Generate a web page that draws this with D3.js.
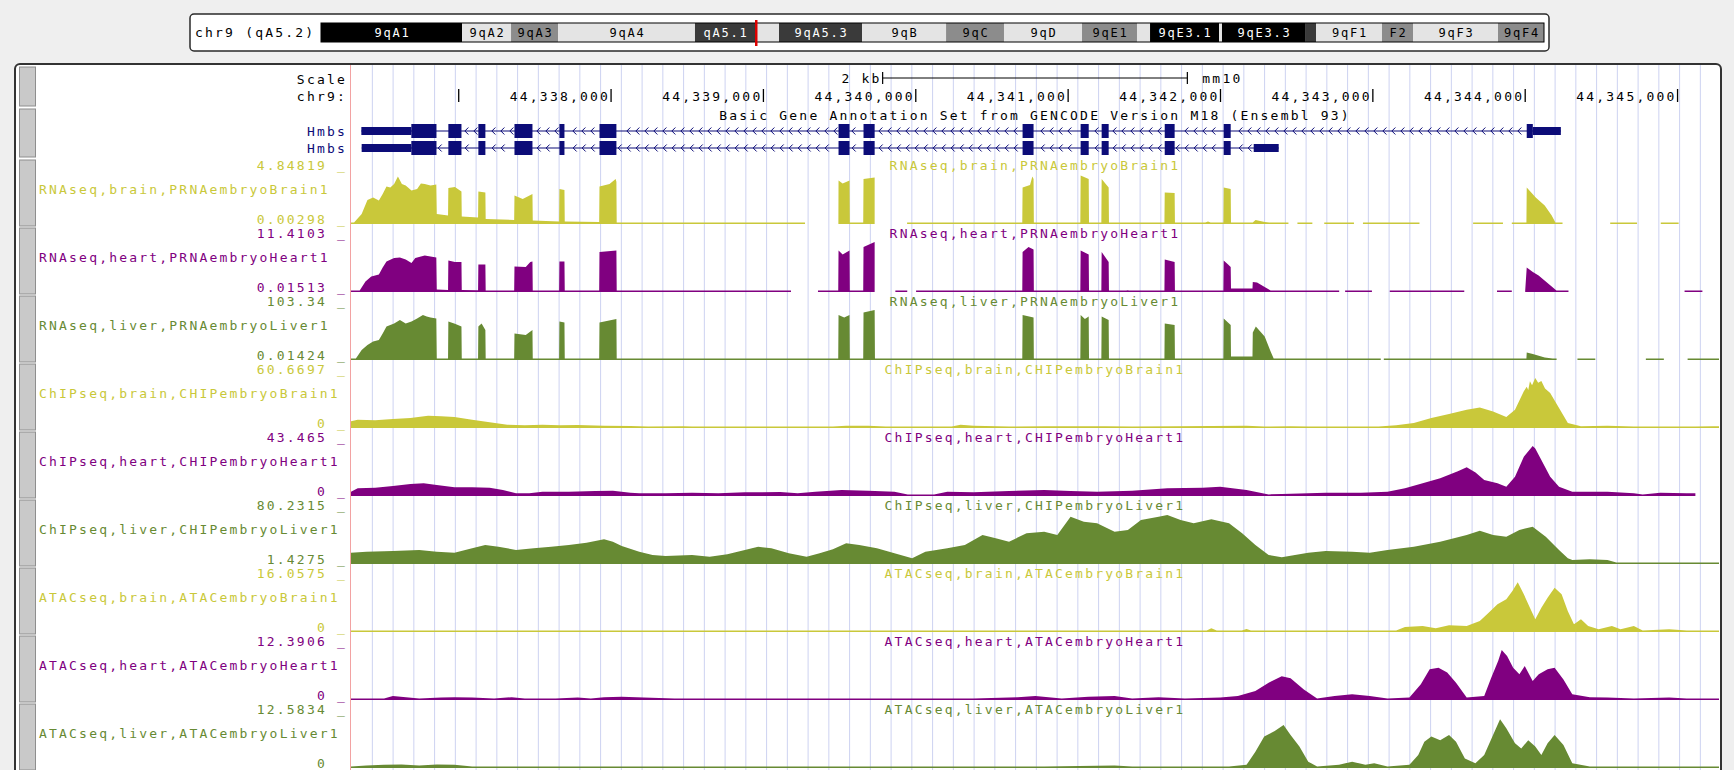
<!DOCTYPE html>
<html>
<head>
<meta charset="utf-8">
<title>Hmbs locus, chr9 (mm10)</title>
<script src="https://cdn.jsdelivr.net/npm/d3@7"></script>
<style>
  html, body { margin: 0; padding: 0; background: #efefef; }
  svg text { font-family: "DejaVu Sans Mono", "Liberation Mono", monospace; font-size: 13px; letter-spacing: 2.2px; }
  svg text.band { font-size: 12px; letter-spacing: 1.8px; }
</style>
</head>
<body>
<svg id="browser" width="1734" height="770"></svg>
<script>
// ---------- view ----------
const assembly = "mm10";
const chromName = "chr9";
const chromSizeMb = 124.595;
const viewStart = 44336293;
const viewEnd = 44345272;

// ---------- chromosome ideogram (Mb) ----------
const cytoBands = [
  ["9qA1", 0, 14.37, "gpos100"],
  ["9qA2", 14.37, 19.36, "gneg"],
  ["9qA3", 19.36, 24.15, "gpos50"],
  ["9qA4", 24.15, 38.10, "gneg"],
  ["9qA5.1", 38.10, 44.22, "gpos75"],
  ["9qA5.2", 44.22, 46.66, "gneg"],
  ["9qA5.3", 46.66, 55.12, "gpos75"],
  ["9qB", 55.12, 63.68, "gneg"],
  ["9qC", 63.68, 69.58, "gpos50"],
  ["9qD", 69.58, 77.53, "gneg"],
  ["9qE1", 77.53, 83.13, "gpos50"],
  ["9qE2", 83.13, 84.46, "gneg"],
  ["9qE3.1", 84.46, 91.49, "gpos100"],
  ["9qE3.2", 91.49, 91.79, "gneg"],
  ["9qE3.3", 91.79, 100.25, "gpos100"],
  ["9qE4", 100.25, 101.37, "gpos75"],
  ["9qF1", 101.37, 108.09, "gneg"],
  ["9qF2", 108.09, 111.25, "gpos50"],
  ["9qF3", 111.25, 119.91, "gneg"],
  ["9qF4", 119.91, 124.595, "gpos50"]
];
const stainFill = { gpos100: "#000000", gpos75: "#3a3a3a", gpos50: "#8c8c8c", gneg: "#e4e4e4" };
const stainText = { gpos100: "#ffffff", gpos75: "#ffffff", gpos50: "#000000", gneg: "#000000" };

// ---------- ruler ----------
const rulerTicks = [44337000, 44338000, 44339000, 44340000, 44341000, 44342000, 44343000, 44344000, 44345000];
const scaleBarBp = 2000;
const scaleBarLabel = "2 kb";

// ---------- gene annotation ----------
const geneTrackLabel = "Basic Gene Annotation Set from GENCODE Version M18 (Ensembl 93)";
const transcriptNames = ["Hmbs", "Hmbs"];
const transcriptStrand = "-";
const transcriptCds = [[44336689, 44344050], [44336689, 44342067]];
const transcriptExons = [
  [[44336361, 44336854], [44336932, 44337018], [44337129, 44337175], [44337366, 44337484],
   [44337661, 44337694], [44337924, 44338035], [44339493, 44339565], [44339657, 44339730],
   [44340701, 44340773], [44341082, 44341135], [44341220, 44341266], [44341634, 44341699],
   [44342021, 44342067], [44344010, 44344234]],
  [[44336363, 44336854], [44336932, 44337018], [44337129, 44337175], [44337366, 44337484],
   [44337661, 44337694], [44337924, 44338035], [44339493, 44339565], [44339657, 44339730],
   [44340701, 44340773], [44341082, 44341135], [44341220, 44341266], [44341634, 44341699],
   [44342021, 44342067], [44342218, 44342382]]
];

// ---------- signal tracks ----------
const trackNames = [
  "RNAseq,brain,PRNAembryoBrain1", "RNAseq,heart,PRNAembryoHeart1", "RNAseq,liver,PRNAembryoLiver1",
  "ChIPseq,brain,CHIPembryoBrain1", "ChIPseq,heart,CHIPembryoHeart1", "ChIPseq,liver,CHIPembryoLiver1",
  "ATACseq,brain,ATACembryoBrain1", "ATACseq,heart,ATACembryoHeart1", "ATACseq,liver,ATACembryoLiver1"
];
const trackTissues = ["brain", "heart", "liver", "brain", "heart", "liver", "brain", "heart", "liver"];
const tissueColors = { brain: "#c9c83a", heart: "#800080", liver: "#678a33" };
const trackMax = [4.84819, 11.4103, 103.34, 60.6697, 43.465, 80.2315, 16.0575, 12.3906, 12.5834];
const trackMin = [0.00298, 0.01513, 0.01424, 0, 0, 1.4275, 0, 0, 0];

// [position, value]; null marks a stretch without data
const rnaBrain = [
  [44336293,0.03],[44336313,0.03],[44336363,0.97],[44336401,2.33],[44336438,2.57],[44336476,2.28],[44336501,2.91],
  [44336526,3.64],[44336551,3.54],[44336576,3.88],[44336601,4.61],[44336627,3.88],[44336652,3.73],[44336690,3.25],
  [44336727,3.39],[44336752,3.93],[44336777,3.88],[44336815,3.73],[44336853,3.83],
  [44336856,0.97],[44336930,0.82],[44336932,3.49],[44336975,3.59],[44337018,3.15],
  [44337020,0.73],[44337127,0.63],[44337129,3.15],[44337175,3.05],
  [44337177,0.48],[44337364,0.39],[44337366,2.76],[44337420,2.42],[44337484,2.91],
  [44337486,0.34],[44337659,0.24],[44337661,3.39],[44337694,3.30],
  [44337696,0.24],[44337922,0.19],[44337924,3.64],[44337990,3.88],[44338030,4.36],[44338035,4.10],
  [44338037,0.15],[44338600,0.10],[44339273,0.06],[44339274,null],
  [44339492,0.05],[44339493,4.22],[44339520,3.93],[44339565,4.22],
  [44339567,0.05],[44339655,0.05],[44339657,4.36],[44339730,4.51],[44339731,null],
  [44339943,0.04],[44340699,0.04],[44340701,3.54],[44340750,3.78],[44340765,4.61],[44340773,4.36],
  [44340775,0.04],[44341080,0.04],[44341082,4.70],[44341135,4.36],
  [44341137,0.04],[44341218,0.04],[44341220,4.36],[44341266,3.54],
  [44341268,0.04],[44341632,0.04],[44341634,3.05],[44341699,3.00],
  [44341701,0.04],[44341900,0.04],[44341918,0.24],[44341935,0.04],[44342019,0.04],
  [44342021,3.54],[44342067,3.39],
  [44342069,0.04],[44342212,0.05],[44342230,0.39],[44342290,0.20],[44342320,0.04],[44342446,0.04],[44342447,null],
  [44342505,0.04],[44342603,0.04],[44342604,null],
  [44342681,0.04],[44342876,0.04],[44342877,null],
  [44342935,0.04],[44343306,0.04],[44343307,null],
  [44343658,0.04],[44343854,0.04],[44343855,null],
  [44343912,0.04],[44344008,0.04],[44344010,3.54],[44344069,2.57],[44344128,1.79],[44344174,0.82],
  [44344198,0.04],[44344245,0.04],[44344246,null],
  [44344558,0.04],[44344734,0.04],[44344735,null],
  [44344890,0.04],[44345007,0.04]
];

const rnaHeart = [
  [44336293,0.05],[44336350,0.05],[44336388,2.40],[44336426,3.54],[44336476,3.99],[44336501,5.59],[44336526,6.96],
  [44336576,7.76],[44336614,7.87],[44336652,7.42],[44336690,6.62],[44336715,7.76],[44336752,8.10],[44336777,8.33],
  [44336815,8.10],[44336853,7.87],
  [44336856,0.57],[44336930,0.46],[44336932,7.19],[44336975,6.85],[44337018,6.85],
  [44337020,0.46],[44337127,0.40],[44337129,6.28],[44337175,6.28],
  [44337177,0.34],[44337364,0.30],[44337366,5.82],[44337440,5.70],[44337470,6.85],[44337484,6.96],
  [44337486,0.30],[44337659,0.25],[44337661,6.96],[44337694,6.96],
  [44337696,0.23],[44337922,0.20],[44337924,9.13],[44338035,9.47],
  [44338037,0.10],[44339181,0.08],[44339182,null],
  [44339358,0.08],[44339491,0.08],[44339493,9.47],[44339520,8.56],[44339565,9.47],
  [44339567,0.08],[44339655,0.08],[44339657,10.27],[44339730,11.41],[44339731,null],
  [44339866,0.08],[44339944,0.08],[44339945,null],
  [44340002,0.08],[44340699,0.08],[44340701,9.13],[44340740,10.27],[44340773,9.70],
  [44340775,0.08],[44341080,0.08],[44341082,9.47],[44341135,8.56],
  [44341137,0.08],[44341218,0.08],[44341220,9.13],[44341266,6.85],
  [44341268,0.08],[44341380,0.08],[44341391,0.40],[44341400,0.08],[44341632,0.08],
  [44341634,7.42],[44341699,6.85],
  [44341701,0.08],[44342019,0.08],[44342021,7.19],[44342050,6.28],[44342067,5.71],
  [44342069,0.80],[44342210,0.80],[44342212,2.28],[44342240,2.17],[44342290,1.14],[44342329,0.10],
  [44342779,0.08],[44342780,null],
  [44342818,0.08],[44342994,0.08],[44342995,null],
  [44343111,0.08],[44343600,0.08],[44343601,null],
  [44343815,0.08],[44343912,0.08],[44343913,null],
  [44344000,0.08],[44344010,5.59],[44344050,4.56],[44344088,3.77],[44344166,1.48],[44344205,0.10],
  [44344284,0.08],[44344285,null],
  [44345046,0.08],[44345163,0.08]
];

const rnaLiver = [
  [44336293,0.5],[44336325,0.5],[44336363,20.7],[44336401,31.0],[44336438,38.2],[44336476,41.3],[44336501,54.8],
  [44336526,69.2],[44336576,75.4],[44336614,82.7],[44336652,75.4],[44336690,79.6],[44336727,85.8],[44336765,93.0],
  [44336790,89.9],[44336815,87.8],[44336853,85.8],
  [44336856,0.5],[44336930,0.5],[44336932,79.6],[44336975,75.0],[44337018,69.2],
  [44337020,0.5],[44337127,0.5],[44337129,69.2],[44337150,75.4],[44337175,62.0],
  [44337177,0.5],[44337364,0.5],[44337366,54.8],[44337440,51.7],[44337484,62.0],
  [44337486,0.5],[44337659,0.5],[44337661,79.6],[44337694,77.5],
  [44337696,0.5],[44337922,0.5],[44337924,77.5],[44338035,84.7],
  [44338037,0.5],[44339491,0.5],[44339493,93.0],[44339530,87.8],[44339565,93.0],
  [44339567,0.5],[44339655,0.5],[44339657,98.2],[44339730,103.3],
  [44339732,0.5],[44340699,0.5],[44340701,93.0],[44340773,87.8],
  [44340775,0.5],[44341080,0.5],[44341082,93.0],[44341110,84.7],[44341135,89.9],
  [44341137,0.5],[44341218,0.5],[44341220,89.9],[44341266,82.7],
  [44341268,0.5],[44341632,0.5],[44341634,75.4],[44341699,72.3],
  [44341701,0.5],[44342019,0.5],[44342021,85.8],[44342067,72.3],
  [44342069,7.2],[44342210,7.2],[44342212,56.8],[44342232,69.2],[44342290,48.6],[44342329,17.6],[44342349,0.5],
  [44343052,0.5],[44343053,null],
  [44343072,0.5],[44344008,0.5],[44344010,15.5],[44344050,12.4],[44344128,5.2],[44344180,1.0],[44344206,0.5],[44344207,null],
  [44344343,0.5],[44344460,0.5],[44344461,null],
  [44344792,0.5],[44344910,0.5],[44344911,null],
  [44345066,0.5],[44345272,0.5]
];

const chipBrain = [
  [44336293,8.1],[44336337,10.1],[44336452,9.3],[44336568,10.9],[44336683,12.1],[44336799,15.0],[44336885,14.2],
  [44336972,13.3],[44337088,10.1],[44337203,6.9],[44337319,4.0],[44337434,3.2],[44337550,4.0],[44337665,3.2],
  [44337781,3.6],[44337954,2.8],[44338127,2.4],[44338243,0.8],[44338474,2.0],[44338532,0.8],[44339456,0.8],
  [44339543,2.8],[44339687,2.8],[44339803,0.8],[44340236,0.8],[44340294,4.0],[44340380,2.8],[44340612,0.8],
  [44340843,2.0],[44341247,2.0],[44341420,0.8],[44341709,2.0],[44342171,2.8],[44342287,0.8],[44342460,2.0],
  [44342576,0.8],[44343038,0.8],[44343153,3.2],[44343269,6.1],[44343384,12.1],[44343500,17.0],[44343616,22.0],
  [44343702,25.0],[44343789,20.0],[44343876,13.3],[44343933,22.2],[44343991,44.5],[44344010,50.0],[44344020,46.0],
  [44344031,56.6],[44344045,52.0],[44344066,60.67],[44344085,55.0],[44344106,57.0],[44344130,48.0],[44344164,42.5],
  [44344222,24.3],[44344280,6.1],[44344366,2.0],[44344540,2.8],[44344713,0.8],[44345117,0.8],[44345233,2.0],[44345272,2.0]
];

const chipHeart = [
  [44336293,3.8],[44336337,6.7],[44336452,7.2],[44336568,8.7],[44336683,10.4],[44336770,11.0],[44336856,9.6],
  [44336972,7.5],[44337088,7.5],[44337203,7.2],[44337290,5.2],[44337376,2.3],[44337463,2.3],[44337550,3.8],
  [44337723,3.8],[44337896,4.3],[44338012,4.6],[44338127,2.9],[44338185,2.3],[44338358,2.3],[44338532,2.9],
  [44338705,2.3],[44338878,3.2],[44339110,3.5],[44339225,2.3],[44339341,3.8],[44339514,5.2],[44339687,4.6],
  [44339860,3.8],[44339947,0.9],[44340120,0.9],[44340207,3.8],[44340380,3.2],[44340612,4.3],[44340843,5.2],
  [44341016,4.3],[44341190,3.8],[44341420,4.6],[44341651,6.7],[44341882,7.2],[44341998,8.1],[44342171,5.2],
  [44342316,0.9],[44342402,1.7],[44342691,2.9],[44342922,2.9],[44343096,3.8],[44343211,6.7],[44343327,11.0],
  [44343442,15.4],[44343558,21.5],[44343616,25.0],[44343674,20.5],[44343731,13.9],[44343818,11.0],[44343876,8.1],
  [44343933,16.8],[44343991,34.2],[44344049,43.4],[44344066,41.4],[44344106,31.3],[44344164,16.8],[44344222,8.1],
  [44344309,3.8],[44344540,3.8],[44344713,2.3],[44344771,1.4],[44344887,2.9],[44345060,2.3],[44345117,2.3]
];

const chipLiver = [
  [44336293,19.3],[44336394,20.9],[44336568,21.9],[44336741,23.5],[44336856,20.9],[44336972,19.3],[44337088,26.1],
  [44337174,31.4],[44337261,28.7],[44337376,23.5],[44337492,26.1],[44337607,28.7],[44337723,31.4],[44337839,35.1],
  [44337954,40.3],[44338012,36.6],[44338070,29.8],[44338185,20.9],[44338272,15.6],[44338358,14.0],[44338532,15.6],
  [44338647,13.0],[44338763,16.7],[44338878,23.5],[44338965,28.7],[44339052,26.1],[44339167,18.2],[44339283,13.0],
  [44339369,18.2],[44339456,24.5],[44339543,34.0],[44339629,31.4],[44339745,26.1],[44339860,18.2],[44339976,10.4],
  [44340063,20.9],[44340207,26.1],[44340322,31.4],[44340438,47.1],[44340525,41.9],[44340612,36.6],[44340727,49.8],
  [44340843,52.4],[44340929,47.1],[44341016,76.0],[44341103,68.1],[44341190,65.5],[44341305,52.4],[44341392,55.0],
  [44341478,70.8],[44341594,76.0],[44341651,78.7],[44341738,70.8],[44341824,65.5],[44341940,71.8],[44342056,65.5],
  [44342142,49.8],[44342229,31.4],[44342316,15.6],[44342402,11.9],[44342576,19.3],[44342691,21.9],[44342864,20.9],
  [44342980,19.3],[44343096,23.5],[44343269,28.7],[44343442,36.6],[44343616,47.1],[44343702,54.0],[44343789,47.1],
  [44343876,44.5],[44343962,55.0],[44344049,60.3],[44344135,44.5],[44344222,23.5],[44344280,10.4],[44344309,7.7],
  [44344424,8.8],[44344540,7.7],[44344598,2.5],[44345272,1.43]
];

const atacBrain = [
  [44336293,0],[44336600,0],[44336625,0.5],[44336650,0],[44337930,0],[44337954,0.5],[44337980,0],
  [44340240,0],[44340265,0.3],[44340290,0],[44340700,0],[44340727,0.5],[44340750,0],
  [44341910,0],[44341940,1.2],[44341975,0.2],[44342140,0],[44342171,1.0],[44342200,0.2],[44342344,0.5],
  [44342518,0.4],[44342749,0.5],[44343153,0.1],[44343211,1.6],[44343327,1.9],[44343413,1.2],[44343500,2.2],
  [44343616,1.9],[44343702,3.5],[44343760,6.2],[44343818,8.9],[44343876,10.5],[44343916,13.2],[44343951,16.0],
  [44343991,12.1],[44344031,7.8],[44344066,4.1],[44344106,7.8],[44344147,11.0],[44344193,14.2],[44344239,12.1],
  [44344280,6.7],[44344320,2.5],[44344366,4.1],[44344413,1.9],[44344482,0.9],[44344569,1.9],[44344626,0.9],
  [44344713,1.9],[44344771,0.5],[44344945,0.9],[44345060,0.3],[44345272,0]
];

const atacHeart = [
  [44336293,0],[44336510,0.3],[44336568,1.0],[44336654,0.7],[44336741,0.2],[44336885,0.6],[44336972,0.7],
  [44337088,0.6],[44337232,0.4],[44337348,0.7],[44337434,0.2],[44337636,0.4],[44337781,0.6],[44337867,0.2],
  [44337954,0.7],[44338070,0.8],[44338214,0.6],[44338416,0],[44338994,0.4],[44339110,0],[44339543,0.3],
  [44339687,0],[44340207,0.4],[44340380,0.4],[44340669,0.7],[44340785,1.0],[44340958,0.4],[44341132,0.8],
  [44341305,1.0],[44341420,0.4],[44341594,0.7],[44341767,0.4],[44341998,0.6],[44342114,1.0],[44342229,2.2],
  [44342316,4.3],[44342402,5.9],[44342460,5.4],[44342547,2.6],[44342634,0.4],[44342749,1.0],[44342864,1.4],
  [44342980,1.0],[44343096,0.4],[44343240,0.6],[44343315,3.9],[44343373,7.6],[44343431,8.0],[44343488,6.8],
  [44343546,4.3],[44343616,0.6],[44343731,1.0],[44343777,5.5],[44343823,9.7],[44343846,12.39],[44343881,10.9],
  [44343921,8.0],[44343962,6.4],[44343997,8.4],[44344049,4.7],[44344089,6.4],[44344147,7.6],[44344193,8.0],
  [44344251,5.1],[44344309,1.4],[44344424,0.7],[44344540,0.6],[44344713,0.4],[44344945,0.6],[44345060,0.4],[44345272,0.2]
];

const atacLiver = [
  [44336293,0.3],[44336394,0.6],[44336510,0.8],[44336625,0.9],[44336741,0.6],[44336856,0.9],[44336972,0.8],
  [44337088,0.4],[44337203,0.2],[44337405,0.1],[44340612,0.2],[44340727,0.4],[44340843,0.2],[44341305,0.6],
  [44341420,0.1],[44342056,0.3],[44342171,0.8],[44342229,4.1],[44342287,7.9],[44342356,9.3],[44342414,10.8],
  [44342460,8.3],[44342518,5.4],[44342576,1.6],[44342634,0.3],[44342778,0.8],[44342864,1.6],[44342951,0.8],
  [44343009,1.2],[44343096,0.3],[44343240,0.8],[44343298,3.3],[44343338,6.6],[44343384,7.9],[44343442,7.0],
  [44343500,8.3],[44343546,6.6],[44343604,2.4],[44343673,1.2],[44343731,3.3],[44343789,8.3],[44343835,12.3],
  [44343876,10.0],[44343933,6.2],[44343974,4.9],[44344020,7.0],[44344066,5.4],[44344106,3.3],[44344147,6.2],
  [44344193,8.3],[44344251,5.8],[44344309,1.2],[44344424,0.3],[44345272,0.2]
];

const trackData = [rnaBrain, rnaHeart, rnaLiver, chipBrain, chipHeart, chipLiver, atacBrain, atacHeart, atacLiver];

// ---------- layout ----------
const W = 1734, H = 770;
const dataLeft = 351, dataRight = 1719;
const labelRight = 347;
const nameLeft = 39;
const charW = 10;
const firstBaseline = 224, trackStep = 68, plotHeight = 50;
const guideSpacing = 20.75;
const geneColor = "#0c0c78";

const svg = d3.select("#browser");
const x = d3.scaleLinear().domain([viewStart, viewEnd]).range([dataLeft, dataRight]);

function txt(g, px, py, s, anchor, color, cls) {
  const t = g.append("text").attr("x", px).attr("y", py).attr("text-anchor", anchor || "start")
    .attr("fill", color || "#000").text(s);
  if (cls) t.attr("class", cls);
  return t;
}

svg.append("rect").attr("width", W).attr("height", H).attr("fill", "#efefef");

// ---------- ideogram ----------
const ideo = svg.append("g");
ideo.append("rect").attr("x", 190).attr("y", 14).attr("width", 1359).attr("height", 37).attr("rx", 4)
  .attr("fill", "#ffffff").attr("stroke", "#2a2a2a").attr("stroke-width", 1.5);
const ix = d3.scaleLinear().domain([0, chromSizeMb]).range([321, 1544]);
const viewMidMb = (viewStart + viewEnd) / 2 / 1e6;
const currentBand = cytoBands.find(b => viewMidMb >= b[1] && viewMidMb < b[2]);
txt(ideo, 195, 37, `${chromName} (${currentBand[0].replace(/^9/, "")})`, "start", "#000");
const bandY = 23, bandH = 19;
ideo.selectAll("rect.cb").data(cytoBands).join("rect").attr("class", "cb")
  .attr("x", d => ix(d[1])).attr("y", bandY)
  .attr("width", d => Math.max(0.5, ix(d[2]) - ix(d[1]))).attr("height", bandH)
  .attr("fill", d => stainFill[d[3]]);
ideo.append("rect").attr("x", ix(0)).attr("y", bandY).attr("width", ix(chromSizeMb) - ix(0)).attr("height", bandH)
  .attr("fill", "none").attr("stroke", "#000").attr("stroke-width", 1);
const bandChar = 9, bandPad = 8;
cytoBands.forEach(b => {
  const w = ix(b[2]) - ix(b[1]);
  const options = [b[0], b[0].replace(/^9/, ""), b[0].replace(/^9q/, "")];
  const fit = options.find(o => o.length * bandChar + bandPad <= w);
  if (fit) txt(ideo, (ix(b[1]) + ix(b[2])) / 2 + 1, 36.5, fit, "middle", stainText[b[3]], "band");
});
ideo.append("line").attr("x1", ix(viewMidMb)).attr("x2", ix(viewMidMb)).attr("y1", 20).attr("y2", 46)
  .attr("stroke", "#dd0000").attr("stroke-width", 2.5);

// ---------- main panel ----------
svg.append("rect").attr("x", 15).attr("y", 64).attr("width", 1706).attr("height", 740).attr("rx", 5)
  .attr("fill", "#ffffff").attr("stroke", "#333").attr("stroke-width", 2);

// light blue guidelines across the data area
const guides = d3.range(dataLeft + 0.6 + guideSpacing, dataRight, guideSpacing);
svg.append("g").selectAll("line").data(guides).join("line")
  .attr("x1", d => d).attr("x2", d => d).attr("y1", 65).attr("y2", H)
  .attr("stroke", "#cdd2f1").attr("stroke-width", 1);
svg.append("line").attr("x1", dataLeft - 0.5).attr("x2", dataLeft - 0.5).attr("y1", 65).attr("y2", H)
  .attr("stroke", "#f2a2a2").attr("stroke-width", 1);

// side buttons
const blocks = [[67, 106], [109, 157]].concat(trackNames.map((_, i) => {
  const B = firstBaseline + trackStep * i;
  return [B - 64, B + 2];
}));
svg.append("g").selectAll("rect").data(blocks).join("rect")
  .attr("x", 19.5).attr("y", d => d[0]).attr("width", 16).attr("height", d => d[1] - d[0])
  .attr("fill", "#c9c9c9").attr("stroke", "#8e8e8e").attr("stroke-width", 1);

// ---------- ruler ----------
const ruler = svg.append("g");
txt(ruler, labelRight, 83.5, "Scale", "end");
txt(ruler, labelRight, 100.5, chromName + ":", "end");
const mid = (viewStart + viewEnd) / 2;
const barL = x(mid - scaleBarBp / 2), barR = x(mid + scaleBarBp / 2);
ruler.append("line").attr("x1", barL).attr("x2", barR).attr("y1", 78).attr("y2", 78).attr("stroke", "#000");
[barL, barR].forEach(bx => ruler.append("line").attr("x1", bx).attr("x2", bx).attr("y1", 72).attr("y2", 84)
  .attr("stroke", "#000").attr("stroke-width", 1.2));
txt(ruler, barL - 1, 82.5, scaleBarLabel, "end");
txt(ruler, barR + 15, 82.5, assembly, "start");
const fmt = d3.format(",");
rulerTicks.forEach(t => {
  const tx = x(t);
  ruler.append("line").attr("x1", tx).attr("x2", tx).attr("y1", 89).attr("y2", 102)
    .attr("stroke", "#000").attr("stroke-width", 1.3);
  const s = fmt(t);
  // a label is only drawn when it fits fully inside the data area
  if (tx - (s.length + 1) * charW - 4 >= dataLeft) txt(ruler, tx - 1, 100.5, s, "end");
});

// ---------- gene track ----------
const gene = svg.append("g");
txt(gene, (dataLeft + dataRight) / 2, 119.5, geneTrackLabel, "middle", "#000");
const rowY = [131, 148];
transcriptExons.forEach((exons, r) => {
  const cy = rowY[r];
  txt(gene, labelRight, cy + 4.5, transcriptNames[r], "end", geneColor);
  const s = exons[0][0], e = exons[exons.length - 1][1];
  gene.append("line").attr("x1", x(s)).attr("x2", x(e)).attr("y1", cy).attr("y2", cy)
    .attr("stroke", geneColor).attr("stroke-width", 1.2);
  const dir = transcriptStrand === "-" ? -1 : 1;
  for (let px = x(s) + 6; px < x(e) - 3; px += 9) {
    if (exons.some(ex => px > x(ex[0]) - 3 && px < x(ex[1]) + 3)) continue;
    gene.append("path")
      .attr("d", `M${px - 2 * dir},${cy - 3.5}L${px + 1.5 * dir},${cy}L${px - 2 * dir},${cy + 3.5}`)
      .attr("fill", "none").attr("stroke", geneColor).attr("stroke-width", 1);
  }
  const [c0, c1] = transcriptCds[r];
  exons.forEach(([a, b]) => {
    const parts = [[a, Math.min(b, c0), 8], [Math.max(a, c0), Math.min(b, c1), 14], [Math.max(a, c1), b, 8]];
    parts.forEach(([p0, p1, h]) => {
      if (p1 <= p0) return;
      gene.append("rect").attr("x", x(p0)).attr("y", cy - h / 2)
        .attr("width", Math.max(1.5, x(p1) - x(p0))).attr("height", h).attr("fill", geneColor);
    });
  });
});

// ---------- signal tracks ----------
svg.append("clipPath").attr("id", "dataClip").append("rect")
  .attr("x", dataLeft).attr("y", 0).attr("width", dataRight - dataLeft).attr("height", H);
const tracks = svg.append("g");
trackData.forEach((data, i) => {
  const B = firstBaseline + trackStep * i;
  const color = tissueColors[trackTissues[i]];
  const y = d3.scaleLinear().domain([trackMin[i], trackMax[i]]).range([B, B - plotHeight]).clamp(true);
  const area = d3.area()
    .defined(d => d[1] !== null)
    .x(d => x(d[0]))
    .y0(B)
    .y1(d => Math.min(y(d[1]), B - 1.6));
  tracks.append("path").attr("d", area(data)).attr("fill", color).attr("clip-path", "url(#dataClip)");
  txt(tracks, (dataLeft + dataRight) / 2, B - 54, trackNames[i], "middle", color);
  txt(tracks, labelRight, B - 54.5, `${trackMax[i]} _`, "end", color);
  txt(tracks, nameLeft, B - 30.5, trackNames[i], "start", color);
  txt(tracks, labelRight, B - 0.5, `${trackMin[i]} _`, "end", color);
});
</script>
</body>
</html>
